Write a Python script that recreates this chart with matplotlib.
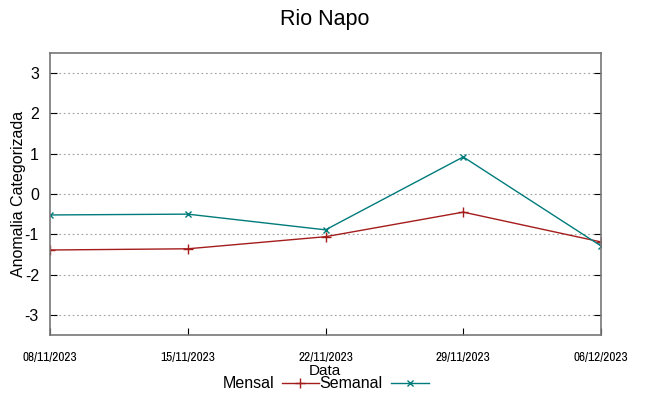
import matplotlib
matplotlib.use("Agg")
import matplotlib.pyplot as plt
from matplotlib.lines import Line2D
from matplotlib import font_manager

dates = ['08/11/2023', '15/11/2023', '22/11/2023', '29/11/2023', '06/12/2023']
mensal = [-1.39, -1.36, -1.06, -0.45, -1.19]
semanal = [-0.52, -0.50, -0.89, 0.92, -1.29]
yticks = [-3, -2, -1, 0, 1, 2, 3]

# narrow face for the date labels, if one is around
names = {f.name for f in font_manager.fontManager.ttflist}
narrow = None
for cand in ['Liberation Sans Narrow', 'Arial Narrow', 'Archivo Narrow', 'Asap Condensed']:
    if cand in names:
        narrow = cand
        break
plt.rcParams['font.family'] = ['Liberation Sans', 'DejaVu Sans']

red = '#a51c1c'
teal = '#007b7b'

fig = plt.figure(figsize=(6.49, 3.96), dpi=100)
ax = fig.add_axes([50 / 649, 1 - 335 / 396, 551 / 649, 282 / 396])

x = list(range(len(dates)))
ax.plot(x, mensal, color=red, lw=1, marker='+', ms=7, mew=1)
ax.plot(x, semanal, color=teal, lw=1, marker='x', ms=5, mew=1)

ax.set_xlim(0, len(dates) - 1)
ax.set_ylim(-3.5, 3.5)
ax.set_yticks(yticks)
ax.set_yticklabels([str(v) for v in yticks], fontsize=11.5)
ax.set_xticks(x)
if narrow:
    ax.set_xticklabels(dates, fontsize=9.6, family=[narrow, 'Liberation Sans'], fontweight='normal')
else:
    ax.set_xticklabels(dates, fontsize=7.8)
ax.tick_params(axis='both', direction='in', length=5, color='black', right=True, top=False)
ax.tick_params(axis='x', pad=12)
ax.tick_params(axis='y', pad=8)
ax.grid(axis='y', linestyle=(0, (1.5, 2.5)), color='#a0a0a0', lw=0.8)
for s in ax.spines.values():
    s.set_color('#777777')
    s.set_linewidth(1.2)

ax.set_ylabel('Anomalia Categorizada', fontsize=11.5, labelpad=-1)
fig.text(325 / 649, 1 - 371 / 396, 'Data', ha='center', va='center', fontsize=11)
fig.text(325 / 649, 1 - 20 / 396, 'Rio Napo', ha='center', va='center', fontsize=15.5)

# legend (gnuplot style: label then sample)
ly = 1 - 383 / 396
fig.text(274 / 649, ly, 'Mensal', ha='right', va='center', fontsize=11.5)
fig.add_artist(Line2D([282 / 649, 319 / 649], [ly, ly], color=red, lw=1))
fig.add_artist(Line2D([300 / 649], [ly], color=red, marker='+', ms=7, mew=1))
fig.text(382 / 649, ly, 'Semanal', ha='right', va='center', fontsize=11.5)
fig.add_artist(Line2D([391 / 649, 429 / 649], [ly, ly], color=teal, lw=1))
fig.add_artist(Line2D([410 / 649], [ly], color=teal, marker='x', ms=5, mew=1))

fig.savefig('out.png', dpi=100)
